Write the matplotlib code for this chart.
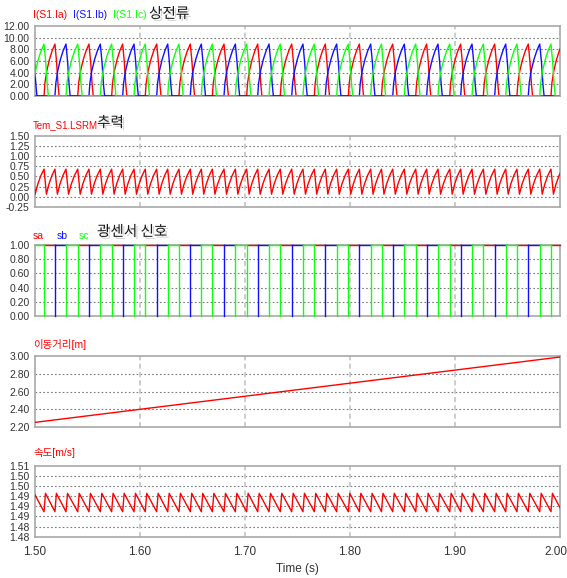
import matplotlib
matplotlib.use('Agg')
import matplotlib.pyplot as plt
import matplotlib.patheffects as pe
from matplotlib.transforms import ScaledTranslation

plt.rcParams['font.family'] = ['Liberation Sans', 'Noto Sans CJK KR', 'DejaVu Sans']

# commutation instants (s) - the conducting phase changes at each one
edges = [1.4871, 1.4978, 1.5086, 1.5190, 1.5295, 1.5407, 1.5514, 1.5622, 1.5730, 1.5835,
         1.5943, 1.6050, 1.6159, 1.6264, 1.6371, 1.6479, 1.6584, 1.6689, 1.6800, 1.6908,
         1.7016, 1.7121, 1.7229, 1.7336, 1.7445, 1.7552, 1.7660, 1.7765, 1.7873, 1.7984,
         1.8089, 1.8197, 1.8300, 1.8407, 1.8517, 1.8626, 1.8730, 1.8838, 1.8950, 1.9054,
         1.9162, 1.9270, 1.9378, 1.9483, 1.9590, 1.9698, 1.9807, 1.9914, 2.0021]
phase_seq = ['b', 'c', 'a']   # phase of the first segment, then cyclic

# phase current over one stroke (fraction of segment, A)
cur_frac = [0.0, 0.08, 0.25, 0.5, 0.75, 1.0, 1.15, 1.28, 1.38]
cur_val = [0.0, 2.2, 4.3, 6.3, 7.8, 8.9, 5.8, 2.0, 0.0]

# thrust over one segment (N)
force_frac = [0.0, 0.22, 0.45, 0.72, 1.0]
force_val = [0.68, 0.06, 0.31, 0.52, 0.68]

# speed over one segment (m/s)
vel_frac = [0.0, 0.13, 1.0]
vel_val = [1.4906, 1.4984, 1.4906]

# mover position (m)
pos_t = [1.50, 2.00]
pos_val = [2.255, 2.985]

RED, BLUE, GREEN = '#ff0000', '#1010ff', '#10ff10'
COLORS = {'a': RED, 'b': BLUE, 'c': GREEN}
T0, T1 = 1.5, 2.0

nseg = len(edges) - 1
seg_phase = [phase_seq[k % 3] for k in range(nseg)]


def current(ph):
    t, y = [edges[0]], [0.0]
    for k in range(nseg):
        if seg_phase[k] != ph:
            continue
        s, e = edges[k], edges[k + 1]
        for f, v in zip(cur_frac, cur_val):
            t.append(s + f * (e - s))
            y.append(v)
    t.append(edges[-1] + 0.01)
    y.append(0.0)
    return t, y


def per_segment(frac, val):
    t, y = [], []
    for k in range(nseg):
        s, e = edges[k], edges[k + 1]
        for f, v in zip(frac, val):
            t.append(s + f * (e - s))
            y.append(v)
    return t, y


def sensor_paths():
    # sc is drawn over sb over sa, so each edge shows the colour of the topmost signal
    paths = {'a': ([], []), 'b': ([], []), 'c': ([], [])}
    for k in range(nseg):
        s, e = max(edges[k], T0), min(edges[k + 1], T1)
        if e <= s:
            continue
        tx, ty = paths[seg_phase[k]]
        tx += [s, e, float('nan')]
        ty += [1, 1, float('nan')]
    for k in range(1, nseg):
        x = edges[k]
        if not T0 < x < T1:
            continue
        top = max(seg_phase[k - 1], seg_phase[k])
        tx, ty = paths[top]
        tx += [x, x, float('nan')]
        ty += [0, 1, float('nan')]
    return paths


W, H = 567, 578
fig = plt.figure(figsize=(W / 100, H / 100), dpi=100)


def add_axes(top, bottom):
    return fig.add_axes([35 / W, 1 - bottom / H, 525 / W, (bottom - top) / H])


def style(ax, ylim, yticks, ylabels, xlabels=False):
    ax.set_xlim(T0, T1)
    ax.set_ylim(*ylim)
    ax.set_yticks(yticks)
    ax.set_yticklabels(ylabels)
    ax.set_xticks([1.5, 1.6, 1.7, 1.8, 1.9, 2.0])
    if not xlabels:
        ax.set_xticklabels([])
    ax.tick_params(length=0, pad=4, labelsize=7.5, colors='#333333')
    for s in ax.spines.values():
        s.set_color('#a8a8a8')
        s.set_linewidth(1.2)
    for y in yticks[1:-1]:
        ax.axhline(y, color='#7a7a7a', lw=0.8, ls=(0, (1.5, 2)), zorder=1)
    for x in [1.6, 1.7, 1.8, 1.9]:
        ax.axvline(x, color='#c4c4c4', lw=1.2, ls=(0, (3, 2)), zorder=1)


def label(x, y, s, color, size=7.5):
    fig.text(x / W, 1 - y / H, s, color=color, fontsize=size, va='center', ha='left')


def heading(x, y, s):
    fig.text(x / W, 1 - y / H, s, color='#1a1a1a', fontsize=10.5, va='center', ha='left',
             family=['Noto Sans CJK KR', 'DejaVu Sans'],
             path_effects=[pe.withSimplePatchShadow(offset=(1.5, -1.5), shadow_rgbFace='#888888', alpha=0.35)])


# phase currents
ax1 = add_axes(26, 96)
for ph in ['a', 'b', 'c']:
    t, y = current(ph)
    ax1.plot(t, y, color=COLORS[ph], lw=1.0, zorder=3)
style(ax1, (0, 12), [0, 2, 4, 6, 8, 10, 12],
      ['0.00', '2.00', '4.00', '6.00', '8.00', '10.00', '12.00'])
label(33, 15, 'I(S1.Ia)', RED)
label(73, 15, 'I(S1.Ib)', BLUE)
label(113, 15, 'I(S1.Ic)', GREEN)
heading(149, 14, '상전류')

# thrust
ax2 = add_axes(136, 206.7)
t, y = per_segment(force_frac, force_val)
ax2.plot(t, y, color=RED, lw=1.0, zorder=3)
style(ax2, (-0.25, 1.5), [-0.25, 0, 0.25, 0.5, 0.75, 1.0, 1.25, 1.5],
      ['-0.25', '0.00', '0.25', '0.50', '0.75', '1.00', '1.25', '1.50'])
label(33, 125, 'Tem_S1.LSRM', RED, size=7)
heading(97, 123, '추력')

# photo sensor signals
ax3 = add_axes(245, 316)
for ph, (t, y) in sensor_paths().items():
    ax3.plot(t, y, color=COLORS[ph], lw=1.0, zorder=3, clip_on=False, snap=True)
style(ax3, (0, 1), [0, 0.2, 0.4, 0.6, 0.8, 1.0],
      ['0.00', '0.20', '0.40', '0.60', '0.80', '1.00'])
label(33, 236, 'sa', RED)
label(57, 236, 'sb', BLUE)
label(79, 236, 'sc', GREEN)
heading(97, 232, '광센서 신호')

# position
ax4 = add_axes(355.7, 427.3)
ax4.plot(pos_t, pos_val, color=RED, lw=1.0, zorder=3)
style(ax4, (2.2, 3.0), [2.2, 2.4, 2.6, 2.8, 3.0],
      ['2.20', '2.40', '2.60', '2.80', '3.00'])
label(33, 344, '이동거리[m]', RED)

# speed
ax5 = add_axes(466, 536.7)
t, y = per_segment(vel_frac, vel_val)
ax5.plot(t, y, color=RED, lw=1.0, zorder=3)
vt = [1.48 + i * 0.03 / 7 for i in range(8)]
style(ax5, (1.48, 1.51), vt,
      ['1.48', '1.48', '1.49', '1.49', '1.49', '1.50', '1.50', '1.51'], xlabels=True)
ax5.set_xticklabels(['1.50', '1.60', '1.70', '1.80', '1.90', '2.00'])
ax5.tick_params(axis='x', pad=7, labelsize=8.5)
last = ax5.get_xticklabels()[-1]
last.set_transform(last.get_transform() + ScaledTranslation(-4 / 100, 0, fig.dpi_scale_trans))
label(33, 453, '속도[m/s]', RED)

fig.text(297 / W, 1 - 569 / H, 'Time (s)', color='#333333', fontsize=8.5, ha='center', va='center')

fig.savefig('out.png', dpi=100, facecolor='white')
